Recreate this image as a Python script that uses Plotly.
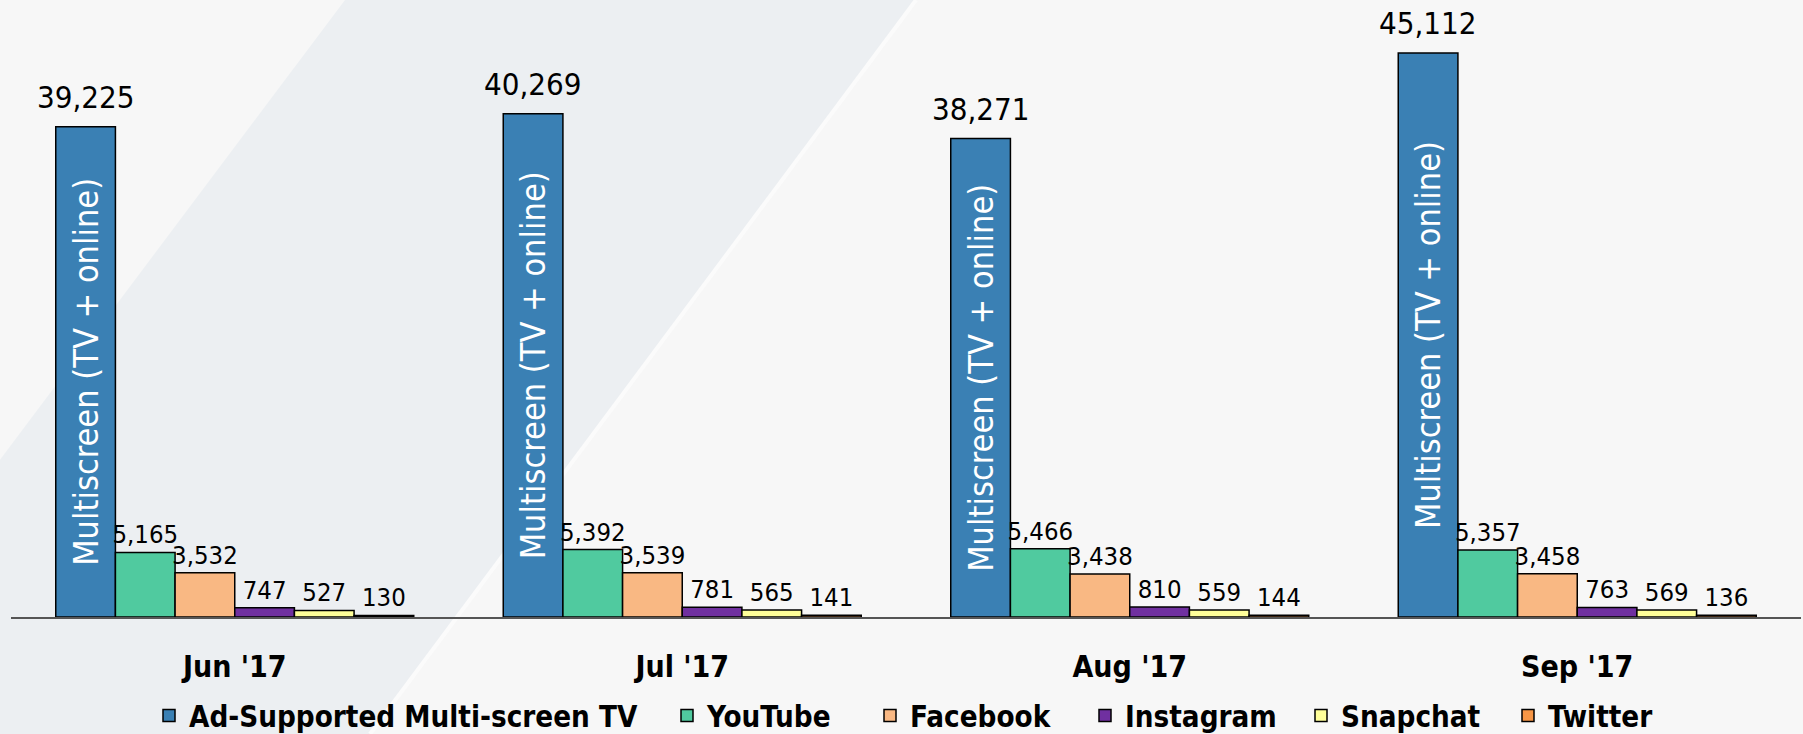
import plotly.graph_objects as go

# ---- data ----
months = ["Jun '17", "Jul '17", "Aug '17", "Sep '17"]
series_names = ["Ad-Supported Multi-screen TV", "YouTube", "Facebook", "Instagram", "Snapchat", "Twitter"]
tv_values = [39225, 40269, 38271, 45112]
youtube_values = [5165, 5392, 5466, 5357]
facebook_values = [3532, 3539, 3438, 3458]
instagram_values = [747, 781, 810, 763]
snapchat_values = [527, 565, 559, 569]
twitter_values = [130, 141, 144, 136]
tv_bar_label = "Multiscreen (TV + online)"

colors = ["#3a80b4", "#50ca9f", "#f9b883", "#7030a0", "#ffff99", "#f79646"]

FONT = "DejaVu Sans Condensed, Noto Sans, sans-serif"
W, H = 1803, 734
ML, MR, MT, MB = 11, 2, 17, 117
BARGAP = 0.2
pw, ph = W - ML - MR, H - MT - MB

def px(x):
    return (x - ML) / pw

def py(y):
    return (H - MB - y) / ph

# legend entry text start (pixels) for each series
legend_text_x = [189, 707, 910, 1125, 1341, 1548]

fig = go.Figure()

all_values = [tv_values, youtube_values, facebook_values, instagram_values, snapchat_values, twitter_values]
legend_ids = ["legend"] + [f"legend{k + 1}" for k in range(1, len(series_names))]

for k, (name, vals, col) in enumerate(zip(series_names, all_values, colors)):
    common = dict(name=name, x=months, y=vals, legend=legend_ids[k],
                  marker=dict(color=col, line=dict(color="#000000", width=1.5)),
                  constraintext="none", cliponaxis=False)
    if k == 0:
        fig.add_trace(go.Bar(
            text=[tv_bar_label] * len(vals),
            textposition="inside", insidetextanchor="middle", textangle=-90,
            insidetextfont=dict(family=FONT, size=34, color="white"),
            **common))
    else:
        fig.add_trace(go.Bar(
            text=[f"{v:,}" for v in vals],
            textposition="outside",
            textfont=dict(family=FONT, size=25.5, color="#000000"),
            **common))

# value labels above the TV bars (first bar of each group)
n_series = len(series_names)
bar_w = (1 - BARGAP) / n_series
tv_offset = -(1 - BARGAP) / 2 + bar_w / 2
for i, v in enumerate(tv_values):
    fig.add_annotation(x=i + tv_offset, y=v, xref="x", yref="y", text=f"{v:,}",
                       showarrow=False, yanchor="bottom", yshift=10,
                       font=dict(family=FONT, size=31, color="#000000"))

# background decoration (diagonal band)
band = [(345, 0), (916, 0), (370, 734), (-206, 734)]
path = "M " + " L ".join(f"{px(a):.4f},{py(b):.4f}" for a, b in band) + " Z"
fig.add_shape(type="path", path=path, xref="paper", yref="paper",
              fillcolor="#eceff2", line=dict(width=0), layer="below")
fig.add_shape(type="line", xref="paper", yref="paper",
              x0=px(916), y0=py(0), x1=px(370), y1=py(734),
              line=dict(color="#fbfbfb", width=4), layer="below")

legend_layouts = {}
for k, lid in enumerate(legend_ids):
    legend_layouts[lid] = dict(
        orientation="h", x=px(legend_text_x[k] - 40), xanchor="left",
        y=py(716), yanchor="middle",
        font=dict(family=FONT, size=29.3, color="#000000", weight="bold"),
        bgcolor="rgba(0,0,0,0)", borderwidth=0, itemclick=False, itemdoubleclick=False,
    )

fig.update_layout(
    width=W, height=H,
    margin=dict(l=ML, r=MR, t=MT, b=MB, autoexpand=False),
    barmode="group", bargap=BARGAP, bargroupgap=0,
    paper_bgcolor="#f7f7f7", plot_bgcolor="rgba(0,0,0,0)",
    showlegend=True,
    xaxis=dict(showline=True, linecolor="#555555", linewidth=2, ticks="",
               tickfont=dict(family=FONT, size=30, color="#000000", weight="bold"),
               ticklabelstandoff=22, showgrid=False, zeroline=False, fixedrange=True),
    yaxis=dict(visible=False, range=[0, 48000], showgrid=False, zeroline=False, fixedrange=True),
    **legend_layouts,
)

fig.write_html(
    "out.html",
    config={"displayModeBar": False},
    post_script="document.body.style.margin='0';document.body.style.padding='0';"
                "document.body.style.overflow='hidden';",
)
